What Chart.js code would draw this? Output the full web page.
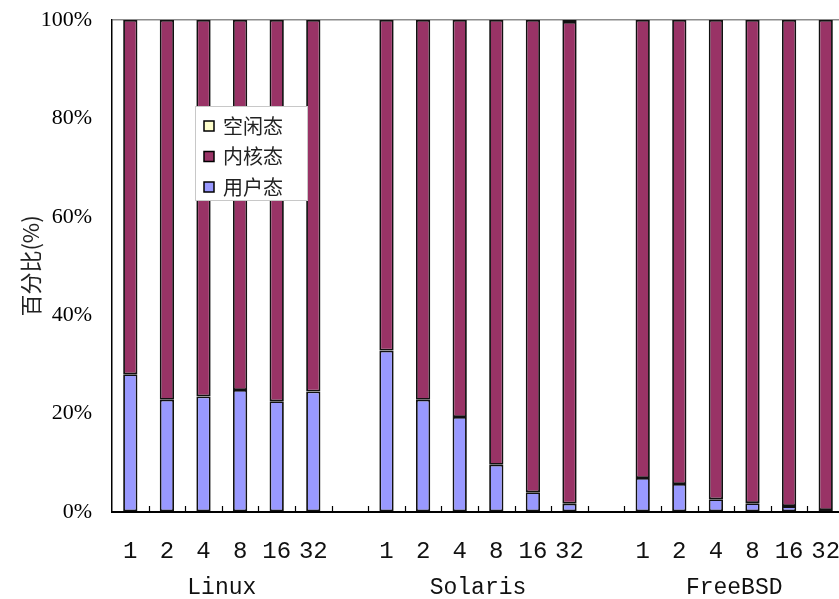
<!DOCTYPE html>
<html>
<head>
<meta charset="utf-8">
<script src="https://cdn.jsdelivr.net/npm/chart.js@4"></script>
<style>
  html, body { margin: 0; padding: 0; background: #fff; overflow: hidden; }
  #wrap { width: 844px; height: 599px; }
</style>
</head>
<body>
<div id="wrap"><canvas id="cpuChart"></canvas></div>
<script>
// categorias
const threads = ['1', '2', '4', '8', '16', '32'];
const systems = ['Linux', 'Solaris', 'FreeBSD'];
const seriesNames = ['用户态', '内核态', '空闲态'];
const seriesColors = ['#9999FF', '#993366', '#FFFFCC'];

// valores (%)
const userLinux = [28.0, 22.8, 23.5, 24.8, 22.5, 24.5];
const userSolaris = [32.8, 22.8, 19.3, 9.6, 4.0, 1.7];
const userFreeBSD = [6.9, 5.7, 2.6, 1.8, 1.2, 0.4];

const kernelLinux = [72.0, 77.2, 76.5, 75.2, 77.5, 75.5];
const kernelSolaris = [67.2, 77.2, 80.7, 90.4, 96.0, 97.9];
const kernelFreeBSD = [93.1, 94.3, 97.4, 98.2, 98.8, 99.6];

const idleLinux = [0, 0, 0, 0, 0, 0];
const idleSolaris = [0, 0, 0, 0, 0, 0.4];
const idleFreeBSD = [0, 0, 0, 0, 0, 0];

const yTicks = [0, 20, 40, 60, 80, 100];

// monta as categorias com um espaço vazio entre os grupos
function withGaps(groups) {
    const out = [];
    groups.forEach((g, i) => {
        g.forEach(v => out.push(v));
        if (i < groups.length - 1) out.push(null);
    });
    return out;
}

const labels = withGaps(systems.map(() => threads)).map(v => v === null ? '' : v);
const userData = withGaps([userLinux, userSolaris, userFreeBSD]);
const kernelData = withGaps([kernelLinux, kernelSolaris, kernelFreeBSD]);
const idleData = withGaps([idleLinux, idleSolaris, idleFreeBSD]);

// eixo dos grupos: uma posição por fronteira entre categorias
const groupLabels = new Array(labels.length + 1).fill('');
systems.forEach((s, i) => {
    groupLabels[i * (threads.length + 1) + threads.length / 2] = s;
});

// pequenas marcas do eixo x voltadas para dentro
const innerTicks = {
    id: 'innerTicks',
    afterDatasetsDraw(chart) {
        const x = chart.scales.x;
        const ctx = chart.ctx;
        const n = chart.data.labels.length;
        const step = (x.right - x.left) / n;
        ctx.save();
        ctx.strokeStyle = '#000';
        ctx.lineWidth = 1.2;
        for (let i = 1; i < n; i++) {
            const px = Math.round(x.getPixelForTick(i) - step / 2) + 0.5;
            ctx.beginPath();
            ctx.moveTo(px, x.top);
            ctx.lineTo(px, x.top - 6);
            ctx.stroke();
        }
        ctx.restore();
    }
};

// legenda dentro da área do gráfico
const boxLegend = {
    id: 'boxLegend',
    afterDraw(chart) {
        const ctx = chart.ctx;
        const area = chart.chartArea;
        const bx = area.left + 83, by = area.top + 86, bw = 112, bh = 94;
        ctx.save();
        ctx.fillStyle = '#fff';
        ctx.fillRect(bx, by, bw, bh);
        ctx.strokeStyle = '#c8c8c8';
        ctx.lineWidth = 1;
        ctx.strokeRect(bx + 0.5, by + 0.5, bw, bh);
        const items = chart.data.datasets.slice().reverse();
        ctx.font = '20px "Noto Sans CJK SC"';
        ctx.textBaseline = 'middle';
        items.forEach((ds, i) => {
            const cy = by + 20 + i * 30.5;
            ctx.fillStyle = ds.backgroundColor;
            ctx.fillRect(bx + 9, cy - 5, 10, 10);
            ctx.strokeStyle = '#000';
            ctx.lineWidth = 1.5;
            ctx.strokeRect(bx + 9, cy - 5, 10, 10);
            ctx.fillStyle = '#222';
            ctx.fillText(ds.label, bx + 28, cy);
        });
        ctx.restore();
    }
};

function makeDataset(i, data) {
    return {
        label: seriesNames[i],
        data: data,
        backgroundColor: seriesColors[i],
        borderColor: '#111',
        borderWidth: ctx => (ctx.raw ? 1.8 : 0),
        borderSkipped: false,
        categoryPercentage: 1.0,
        barPercentage: 0.39
    };
}

const hiddenTicks = len => ({
    display: true,
    drawOnChartArea: false,
    drawTicks: true,
    tickLength: len,
    tickColor: 'rgba(0,0,0,0)',
    color: 'rgba(0,0,0,0)'
});

new Chart(document.getElementById('cpuChart'), {
    type: 'bar',
    data: {
        labels: labels,
        datasets: [
            makeDataset(0, userData),
            makeDataset(1, kernelData),
            makeDataset(2, idleData)
        ]
    },
    options: {
        responsive: true,
        maintainAspectRatio: false,
        animation: false,
        layout: { padding: { top: 20, left: 0, right: 0, bottom: 0 } },
        plugins: {
            legend: { display: false },
            tooltip: { enabled: false }
        },
        scales: {
            x: {
                stacked: true,
                weight: 0,
                afterFit: scale => { scale.height = 50; },
                grid: hiddenTicks(25),
                border: { display: true, color: '#000', width: 2 },
                ticks: {
                    font: { family: 'Liberation Mono', size: 24 },
                    color: '#111',
                    padding: 0,
                    autoSkip: false,
                    maxRotation: 0
                }
            },
            x2: {
                type: 'category',
                labels: groupLabels,
                position: 'bottom',
                weight: 1,
                offset: false,
                afterFit: scale => { scale.height = 37; },
                grid: hiddenTicks(12),
                border: { display: false },
                ticks: {
                    font: { family: 'Liberation Mono', size: 23 },
                    color: '#111',
                    padding: 0,
                    autoSkip: false,
                    maxRotation: 0
                }
            },
            y: {
                stacked: true,
                min: 0,
                max: 100,
                afterBuildTicks: axis => {
                    axis.ticks = yTicks.map(v => ({ value: v }));
                },
                afterFit: scale => { scale.width = 112; },
                grid: {
                    drawTicks: true,
                    tickLength: 20,
                    tickColor: 'rgba(0,0,0,0)',
                    color: ctx => (ctx.tick && ctx.tick.value === 100 ? '#8c8c8c' : 'rgba(0,0,0,0)'),
                    lineWidth: 1.5
                },
                border: { display: true, color: '#000', width: 1.5 },
                ticks: {
                    font: { family: 'Liberation Serif', size: 22 },
                    color: '#000',
                    padding: 0,
                    callback: v => v + '%'
                },
                title: {
                    display: true,
                    text: '百分比(%)',
                    font: { family: 'Noto Sans CJK SC', size: 22 },
                    color: '#222',
                    padding: { top: 17, bottom: 0 }
                }
            }
        }
    },
    plugins: [innerTicks, boxLegend]
});
</script>
</body>
</html>
